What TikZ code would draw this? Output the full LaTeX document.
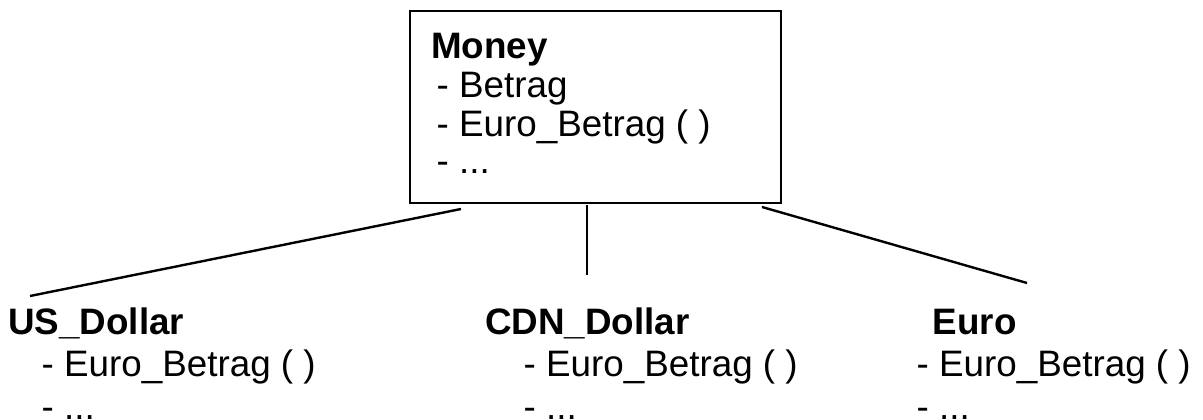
\documentclass[tikz,border=0pt]{standalone}
\usepackage{fontspec}
\setmainfont{Liberation Sans}
\begin{document}
\begin{tikzpicture}[x=1bp,y=1bp,
  txt/.style={inner sep=0pt,anchor=base west,
    font=\fontsize{36.8bp}{40bp}\selectfont},
  title/.style={txt,font=\fontsize{36.8bp}{40bp}\selectfont\bfseries},
  classbox/.style={draw,line width=1.4bp,rectangle,inner sep=0pt,
    minimum width=371bp,minimum height=192bp},
  link/.style={line width=2.4bp}]
\useasboundingbox (0,0) rectangle (1203,419);
\clip (0,0) rectangle (1203,419);

% base class
\node[classbox] (money) at (595.5,312) {};
\node[title] (moneyname) at (431,361) {Money};
\node[txt] (moneyattr) at (436.5,322) {- Betrag};
\node[txt] (moneyop) at (436.5,283) {- Euro\_Betrag ( )};
\node[txt] (moneyrest) at (436.5,246) {- ...};

% derived classes
\node[title] (usd) at (8,85) {US\_Dollar};
\node[txt] (usdop) at (41.5,43) {- Euro\_Betrag ( )};
\node[txt] (usdrest) at (41.5,0) {- ...};

\node[title] (cdn) at (485,85) {CDN\_Dollar};
\node[txt] (cdnop) at (523.5,43) {- Euro\_Betrag ( )};
\node[txt] (cdnrest) at (523.5,0) {- ...};

\node[title] (eur) at (932.5,85) {Euro};
\node[txt] (europ) at (916.5,43) {- Euro\_Betrag ( )};
\node[txt] (eurrest) at (916.5,0) {- ...};

% inheritance links
\coordinate (l1) at (461,210);
\coordinate (l2) at (30,123);
\coordinate (m1) at (587,214);
\coordinate (m2) at (587,144);
\coordinate (r1) at (762,212);
\coordinate (r2) at (1027,136);
\draw[link] (l1) -- (l2);
\draw[link] (m1) -- (m2);
\draw[link] (r1) -- (r2);
\end{tikzpicture}
\end{document}
